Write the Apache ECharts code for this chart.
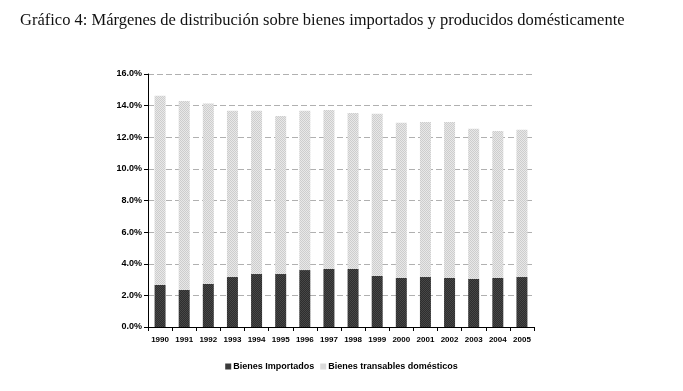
<!DOCTYPE html>
<html><head><meta charset="utf-8">
<script src="https://cdn.jsdelivr.net/npm/echarts@6/dist/echarts.min.js"></script>
<style>html,body{margin:0;padding:0;background:#fff;}#c{width:683px;height:391px;}</style>
</head><body><div id="c"></div>
<script>
const categories = ['1990','1991','1992','1993','1994','1995','1996','1997','1998','1999','2000','2001','2002','2003','2004','2005'];
const importados = [2.66,2.34,2.72,3.16,3.35,3.35,3.60,3.67,3.67,3.23,3.10,3.16,3.10,3.04,3.10,3.16];
const domesticos = [11.96,11.96,11.41,10.51,10.32,10.00,10.07,10.06,9.87,10.25,9.81,9.81,9.87,9.49,9.30,9.31];
const yTicks = [0,2,4,6,8,10,12,14,16];

function pattern(a, b) {
  const c = document.createElement('canvas');
  c.width = 2; c.height = 2;
  const g = c.getContext('2d');
  g.fillStyle = a; g.fillRect(0,0,2,2);
  g.fillStyle = b; g.fillRect(0,0,1,1); g.fillRect(1,1,1,1);
  return c;
}
const darkPat = {image: pattern('#2e2e2e', '#474747'), repeat: 'repeat'};
const lightPat = {image: pattern('#e8e8e8', '#cdcdcd'), repeat: 'repeat'};

const chart = echarts.init(document.getElementById('c'));
chart.setOption({
  animation: false,
  title: {
    text: 'Gráfico 4: Márgenes de distribución sobre bienes importados y producidos domésticamente',
    left: 20, top: 12, padding: 0,
    textStyle: {fontFamily: 'Liberation Serif', fontWeight: 'normal', fontSize: 16.5, color: '#111'}
  },
  legend: {
    bottom: 15, left: 'center',
    itemWidth: 6, itemHeight: 6, itemGap: 6,
    icon: 'rect',
    textStyle: {fontFamily: 'Liberation Sans', fontWeight: 'bold', fontSize: 9, color: '#000', padding: [0,0,0,-3]},
    data: ['Bienes Importados', 'Bienes transables domésticos']
  },
  grid: {left: 148, right: 149, top: 74, bottom: 64, containLabel: false},
  xAxis: {
    type: 'category', data: categories,
    axisLine: {lineStyle: {color: '#000', width: 1}},
    axisTick: {show: true, inside: false, length: 4, lineStyle: {color: '#000'}},
    axisLabel: {fontFamily: 'Liberation Sans', fontWeight: 'bold', fontSize: 8, color: '#000', margin: 9}
  },
  yAxis: {
    type: 'value', min: 0, max: 16, interval: 2,
    axisLine: {show: true, lineStyle: {color: '#000', width: 1}},
    axisTick: {show: true, length: 4, lineStyle: {color: '#000'}},
    axisLabel: {fontFamily: 'Liberation Sans', fontWeight: 'bold', fontSize: 9, color: '#000', margin: 6,
      formatter: v => v.toFixed(1) + '%'},
    splitLine: {show: true, lineStyle: {color: '#b0b0b0', type: [6, 3], width: 1}}
  },
  series: [
    {name: 'Bienes Importados', type: 'bar', stack: 't', data: importados, barWidth: 11,
     itemStyle: {color: darkPat}},
    {name: 'Bienes transables domésticos', type: 'bar', stack: 't', data: domesticos, barWidth: 11,
     itemStyle: {color: lightPat}}
  ]
});
</script></body></html>
